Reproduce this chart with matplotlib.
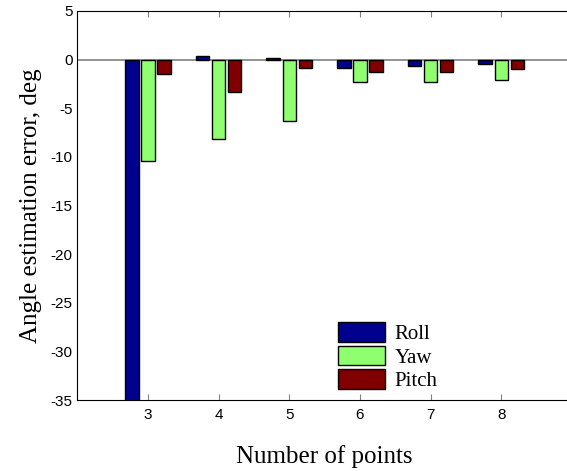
import matplotlib.pyplot as plt
import numpy as np

plt.rcParams["axes.unicode_minus"] = False

# data
points = [3, 4, 5, 6, 7, 8]
roll = [-38.0, 0.4, 0.2, -0.82, -0.69, -0.45]
yaw = [-10.4, -8.2, -6.3, -2.3, -2.3, -2.09]
pitch = [-1.47, -3.36, -0.82, -1.27, -1.27, -0.93]

series = [("Roll", roll, "#00008f"),
          ("Yaw", yaw, "#8fff70"),
          ("Pitch", pitch, "#800000")]

fig = plt.figure(figsize=(5.67, 4.71), dpi=100)
# axes box runs slightly past the right edge, as in the reference
ax = fig.add_axes([77.3 / 567, 1 - 400 / 471, 494.6 / 567, 389 / 471])

x = np.array(points, dtype=float)
offset = 0.228
width = 0.19
for i, (name, vals, col) in enumerate(series):
    ax.bar(x + (i - 1) * offset, vals, width, color=col, edgecolor="black",
           linewidth=1.0, label=name, zorder=3)

ax.axhline(0, color="#808080", linewidth=1.2, zorder=2)

ax.set_xlim(2, 9)
ax.set_ylim(-35, 5)
ax.set_xticks(points)
ax.set_yticks(np.arange(-35, 6, 5))
ax.tick_params(direction="in", length=4, color="#808080", labelsize=11,
               top=True, right=True)
for lab in ax.get_xticklabels() + ax.get_yticklabels():
    lab.set_family("Liberation Sans")
ax.tick_params(axis="x", pad=6)
ax.tick_params(axis="y", length=0)

ax.set_xlabel("Number of points", family="Liberation Serif", fontsize=18,
              labelpad=16)
ax.set_ylabel("Angle estimation error, deg", family="Liberation Serif",
              fontsize=18, labelpad=6)

ax.legend(loc="upper left", bbox_to_anchor=(338 / 567, 1 - 322 / 471),
          bbox_transform=fig.transFigure, frameon=False,
          prop={"family": "Liberation Serif", "size": 15},
          handlelength=2.25, handleheight=1.08, labelspacing=0.08,
          handletextpad=0.45, borderaxespad=0, borderpad=0)

fig.savefig("out.png", dpi=100)
